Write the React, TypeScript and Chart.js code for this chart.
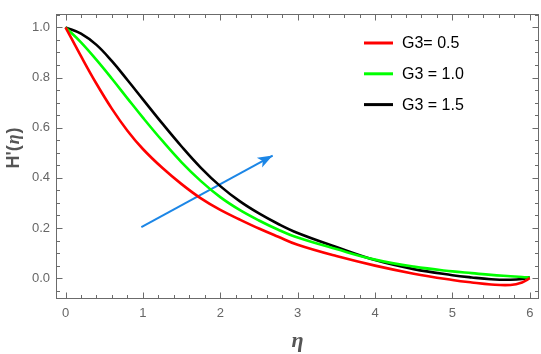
import React, { useEffect, useRef } from "react";
import { Chart, registerables } from "chart.js";

Chart.register(...registerables);

const eta = [0, 0.2, 0.4, 0.6, 0.8, 1.0, 1.25, 1.5, 1.75, 2.0, 2.25, 2.5, 2.75, 3.0, 3.5, 4.0, 4.5, 5.0, 5.25, 5.5, 5.75, 5.9, 6.0];
const g05 = [1.0, 0.885, 0.775, 0.675, 0.588, 0.515, 0.44, 0.375, 0.318, 0.272, 0.234, 0.198, 0.165, 0.133, 0.088, 0.05, 0.018, -0.007, -0.017, -0.025, -0.027, -0.017, 0.0];
const g10 = [1.0, 0.94, 0.87, 0.795, 0.717, 0.64, 0.548, 0.462, 0.387, 0.323, 0.272, 0.23, 0.193, 0.162, 0.116, 0.074, 0.046, 0.027, 0.02, 0.013, 0.008, 0.005, 0.002];
const g15 = [1.0, 0.975, 0.93, 0.865, 0.79, 0.713, 0.617, 0.525, 0.44, 0.367, 0.307, 0.258, 0.216, 0.18, 0.124, 0.072, 0.036, 0.012, 0.003, -0.004, -0.006, -0.003, 0.004];

const seriesLabels = ["G3= 0.5", "G3 = 1.0", "G3 = 1.5"];
const seriesColors = ["#ff0000", "#00ff00", "#000000"];

const arrowEta = [0.98, 2.677];
const arrowVal = [0.204, 0.489];
const arrowColor = "#1c86e6";

const xTicks = [0, 1, 2, 3, 4, 5, 6];
const yTicks = [0.0, 0.2, 0.4, 0.6, 0.8, 1.0];
const xRange = [-0.123, 6.119];
const yRange = [-0.083, 1.054];

const FRAME = "#6b6b6b";
const TEXT = "#666666";

const framePlugin = {
  id: "frame",
  afterDatasetsDraw(chart: any) {
    const { ctx, chartArea: a, scales } = chart;
    const xs = scales.x;
    const ys = scales.y;
    ctx.save();
    // arrow head
    const p1x = xs.getPixelForValue(arrowEta[0]);
    const p1y = ys.getPixelForValue(arrowVal[0]);
    const p2x = xs.getPixelForValue(arrowEta[1]);
    const p2y = ys.getPixelForValue(arrowVal[1]);
    const ang = Math.atan2(p2y - p1y, p2x - p1x);
    const L = 15, W = 5.5;
    ctx.fillStyle = arrowColor;
    ctx.beginPath();
    ctx.moveTo(p2x, p2y);
    ctx.lineTo(p2x - L * Math.cos(ang) + W * Math.sin(ang), p2y - L * Math.sin(ang) - W * Math.cos(ang));
    ctx.lineTo(p2x - L * 0.75 * Math.cos(ang), p2y - L * 0.75 * Math.sin(ang));
    ctx.lineTo(p2x - L * Math.cos(ang) - W * Math.sin(ang), p2y - L * Math.sin(ang) + W * Math.cos(ang));
    ctx.closePath();
    ctx.fill();

    // frame
    ctx.strokeStyle = FRAME;
    ctx.lineWidth = 1;
    const l = Math.round(a.left) + 0.5, r = Math.round(a.right) - 0.5;
    const t = Math.round(a.top) + 0.5, b = Math.round(a.bottom) - 0.5;
    ctx.strokeRect(l, t, r - l, b - t);
    ctx.beginPath();
    for (let v = 0; v <= 6.0001; v += 0.2) {
      const major = Math.abs(v - Math.round(v)) < 1e-6;
      const len = major ? 6 : 3.5;
      const px = Math.round(xs.getPixelForValue(v)) + 0.5;
      ctx.moveTo(px, b); ctx.lineTo(px, b - len);
      ctx.moveTo(px, t); ctx.lineTo(px, t + len);
    }
    for (let i = -1; i <= 21; i++) {
      const v = i * 0.05;
      if (v < yRange[0] || v > yRange[1]) continue;
      const major = i % 4 === 0;
      const len = major ? 6 : 3.5;
      const py = Math.round(ys.getPixelForValue(v)) + 0.5;
      ctx.moveTo(l, py); ctx.lineTo(l + len, py);
      ctx.moveTo(r, py); ctx.lineTo(r - len, py);
    }
    ctx.stroke();

    // legend
    const lx = 364, ly = 43, gap = 30.8;
    ctx.textBaseline = "middle";
    ctx.textAlign = "left";
    ctx.font = "16px 'Liberation Sans', Arial, sans-serif";
    seriesLabels.forEach((lab, i) => {
      const y = ly + i * gap;
      ctx.strokeStyle = seriesColors[i];
      ctx.lineWidth = 3;
      ctx.beginPath();
      ctx.moveTo(lx, y);
      ctx.lineTo(lx + 29, y);
      ctx.stroke();
      ctx.fillStyle = "#000";
      ctx.fillText(lab, lx + 38, y + 1);
    });

    // axis titles
    ctx.fillStyle = "#555555";
    ctx.save();
    ctx.translate(14, 148);
    ctx.rotate(-Math.PI / 2);
    ctx.textBaseline = "middle";
    const p1 = "H'(";
    const p2 = "\u03b7";
    const p3 = ")";
    ctx.font = "bold 18px 'Liberation Sans', Arial, sans-serif";
    const w1 = ctx.measureText(p1).width;
    const w3 = ctx.measureText(p3).width;
    ctx.font = "italic bold 18px 'Liberation Serif', 'Times New Roman', serif";
    const w2 = ctx.measureText(p2).width;
    const total = w1 + w2 + w3 + 2;
    let cx = -total / 2;
    ctx.textAlign = "left";
    ctx.font = "bold 18px 'Liberation Sans', Arial, sans-serif";
    ctx.fillText(p1, cx, 0); cx += w1 + 1;
    ctx.font = "italic bold 18px 'Liberation Serif', 'Times New Roman', serif";
    ctx.fillText(p2, cx, 0); cx += w2 + 1;
    ctx.font = "bold 18px 'Liberation Sans', Arial, sans-serif";
    ctx.fillText(p3, cx, 0);
    ctx.restore();

    ctx.textAlign = "center";
    ctx.textBaseline = "middle";
    ctx.font = "italic bold 22px 'Liberation Serif', 'Times New Roman', serif";
    ctx.fillText("\u03b7", (a.left + a.right) / 2, 341);
    ctx.restore();
  },
};

export default function App() {
  const ref = useRef<HTMLCanvasElement | null>(null);
  useEffect(() => {
    if (!ref.current) return;
    const mk = (vals: number[], i: number) => ({
      label: seriesLabels[i],
      data: eta.map((e, k) => ({ x: e, y: vals[k] })),
      borderColor: seriesColors[i],
      backgroundColor: seriesColors[i],
      borderWidth: 2.6,
      pointRadius: 0,
      tension: 0.4,
      fill: false,
    });
    const chart = new Chart(ref.current, {
      type: "line",
      data: {
        datasets: [
          mk(g05, 0),
          mk(g10, 1),
          mk(g15, 2),
          {
            label: "arrow",
            data: arrowEta.map((e, k) => ({ x: e, y: arrowVal[k] })),
            borderColor: arrowColor,
            borderWidth: 2,
            pointRadius: 0,
            tension: 0,
            fill: false,
          } as any,
        ],
      },
      options: {
        animation: false,
        responsive: false,
        layout: { padding: { top: 1, right: 2, left: 0, bottom: 0 } },
        plugins: { legend: { display: false }, tooltip: { enabled: false } },
        scales: {
          x: {
            type: "linear",
            min: xRange[0],
            max: xRange[1],
            afterBuildTicks: (s: any) => { s.ticks = xTicks.map((v) => ({ value: v })); },
            afterFit: (s: any) => { s.height = 55; },
            grid: { display: false, drawTicks: false },
            border: { display: false },
            ticks: {
              padding: 7,
              color: TEXT,
              font: { size: 13, family: "'Liberation Sans', Arial, sans-serif" },
              callback: (v: any) => String(v),
            },
          },
          y: {
            type: "linear",
            min: yRange[0],
            max: yRange[1],
            afterBuildTicks: (s: any) => { s.ticks = yTicks.map((v) => ({ value: v })); },
            afterFit: (s: any) => { s.width = 56; },
            grid: { display: false, drawTicks: false },
            border: { display: false },
            ticks: {
              padding: 6,
              color: TEXT,
              font: { size: 13, family: "'Liberation Sans', Arial, sans-serif" },
              callback: (v: any) => Number(v).toFixed(1),
            },
          },
        },
      },
      plugins: [framePlugin],
    });
    return () => chart.destroy();
  }, []);
  return (
    <div style={{ position: "fixed", left: 0, top: 0, width: 541, height: 354, background: "#fff" }}>
      <canvas ref={ref} width={541} height={354} style={{ width: 541, height: 354, display: "block" }} />
    </div>
  );
}
